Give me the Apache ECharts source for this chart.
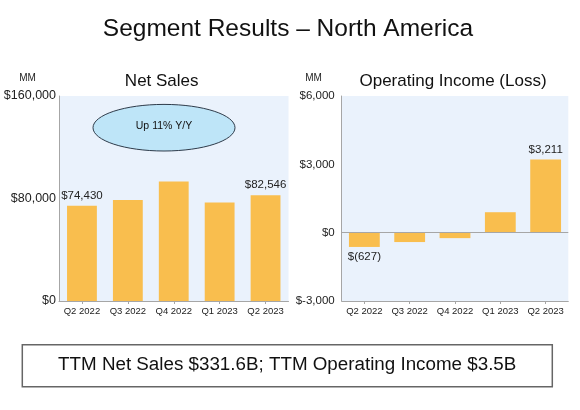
<!DOCTYPE html>
<html><head><meta charset="utf-8">
<script src="https://cdn.jsdelivr.net/npm/echarts@6/dist/echarts.min.js"></script>
<style>html,body{margin:0;padding:0;background:#fff}#c{width:580px;height:410px}</style>
</head><body><div id="c"></div>
<script>
const categories = ['Q2 2022','Q3 2022','Q4 2022','Q1 2023','Q2 2023'];
const netSales = [74430, 78843, 93363, 76881, 82546];
const operatingIncome = [-627, -412, -240, 898, 3211];
const salesTicks = {min: 0, max: 160000, interval: 80000};
const incomeTicks = {min: -3000, max: 6000, interval: 3000};
const labeledIdx = [0, 4];

const FONT = '"Liberation Sans", Arial, sans-serif';
const BAR = '#F9BE4E';
const AX = '#A6A6A6';
const fmtSales = v => '$' + v.toLocaleString('en-US');
const fmtIncome = v => v < 0 ? '$(' + Math.abs(v).toLocaleString('en-US') + ')' : '$' + v.toLocaleString('en-US');

function items(vals, fmt){
  return vals.map((v,i) => labeledIdx.includes(i) ? {
    value: v,
    label: {show: true, position: v < 0 ? 'bottom' : 'top', distance: 4,
      formatter: () => fmt(v), fontSize: 11.5, color: '#222', fontFamily: FONT}
  } : v);
}

const chart = echarts.init(document.getElementById('c'), null, {renderer: 'canvas'});
const xAx = (gi) => ({
  type: 'category', gridIndex: gi, data: categories,
  axisLine: {onZero: false, lineStyle: {color: AX, width: 1}},
  axisTick: {show: true, alignWithLabel: true, length: 3, lineStyle: {color: AX}},
  axisLabel: {fontSize: 9.5, color: '#222', margin: 5, fontFamily: FONT, interval: 0}
});
chart.setOption({
  animation: false,
  textStyle: {fontFamily: FONT},
  grid: [
    {left: 59, top: 96, width: 229.5, height: 205, show: true, backgroundColor: '#EAF2FC', borderWidth: 0},
    {left: 341.7, top: 96, width: 226.6, height: 205, show: true, backgroundColor: '#EAF2FC', borderWidth: 0}
  ],
  xAxis: [xAx(0), xAx(1)],
  yAxis: [
    {type: 'value', gridIndex: 0, min: salesTicks.min, max: salesTicks.max, interval: salesTicks.interval,
      splitLine: {show: false}, axisTick: {show: false},
      axisLine: {show: true, lineStyle: {color: AX}},
      axisLabel: {formatter: fmtSales, fontSize: 12.5, color: '#222', margin: 3, fontFamily: FONT}},
    {type: 'value', gridIndex: 1, min: incomeTicks.min, max: incomeTicks.max, interval: incomeTicks.interval,
      splitLine: {show: false}, axisTick: {show: false},
      axisLine: {show: true, lineStyle: {color: AX}},
      axisLabel: {formatter: v => '$' + v.toLocaleString('en-US'), fontSize: 11.5, color: '#222', margin: 7, fontFamily: FONT}}
  ],
  series: [
    {type: 'bar', xAxisIndex: 0, yAxisIndex: 0, data: items(netSales, fmtSales), barWidth: '65%',
      itemStyle: {color: BAR}},
    {type: 'bar', xAxisIndex: 1, yAxisIndex: 1, data: items(operatingIncome, fmtIncome), barWidth: '68%',
      itemStyle: {color: BAR},
      markLine: {silent: true, symbol: 'none', label: {show: false},
        lineStyle: {color: AX, type: 'solid', width: 1}, data: [{yAxis: 0}]}}
  ],
  graphic: [
    {type: 'text', x: 288, y: 29, style: {text: 'Segment Results \u2013 North America', font: '24.5px ' + FONT,
      fill: '#111', textAlign: 'center', textVerticalAlign: 'middle'}},
    {type: 'text', x: 161.7, y: 81.5, style: {text: 'Net Sales', font: '17px ' + FONT,
      fill: '#111', textAlign: 'center', textVerticalAlign: 'middle'}},
    {type: 'text', x: 453, y: 81.5, style: {text: 'Operating Income (Loss)', font: '17px ' + FONT,
      fill: '#111', textAlign: 'center', textVerticalAlign: 'middle'}},
    {type: 'text', x: 27.5, y: 78, style: {text: 'MM', font: '10px ' + FONT,
      fill: '#222', textAlign: 'center', textVerticalAlign: 'middle'}},
    {type: 'text', x: 313.5, y: 78, style: {text: 'MM', font: '10px ' + FONT,
      fill: '#222', textAlign: 'center', textVerticalAlign: 'middle'}},
    {type: 'ellipse', shape: {cx: 164, cy: 127.7, rx: 71, ry: 23.3},
      style: {fill: '#BEE5F8', stroke: '#2E3B4A', lineWidth: 1}, z: 10},
    {type: 'text', x: 164, y: 126.5, z: 11, style: {text: 'Up 11% Y/Y', font: '10.5px ' + FONT,
      fill: '#111', textAlign: 'center', textVerticalAlign: 'middle'}},
    {type: 'rect', shape: {x: 22.3, y: 344.7, width: 530, height: 42},
      style: {fill: '#fff', stroke: '#666', lineWidth: 1.5}},
    {type: 'text', x: 287.2, y: 364.5, z: 11, style: {text: 'TTM Net Sales $331.6B; TTM Operating Income $3.5B',
      font: '18.8px ' + FONT, fill: '#111', textAlign: 'center', textVerticalAlign: 'middle'}}
  ]
});
</script></body></html>
